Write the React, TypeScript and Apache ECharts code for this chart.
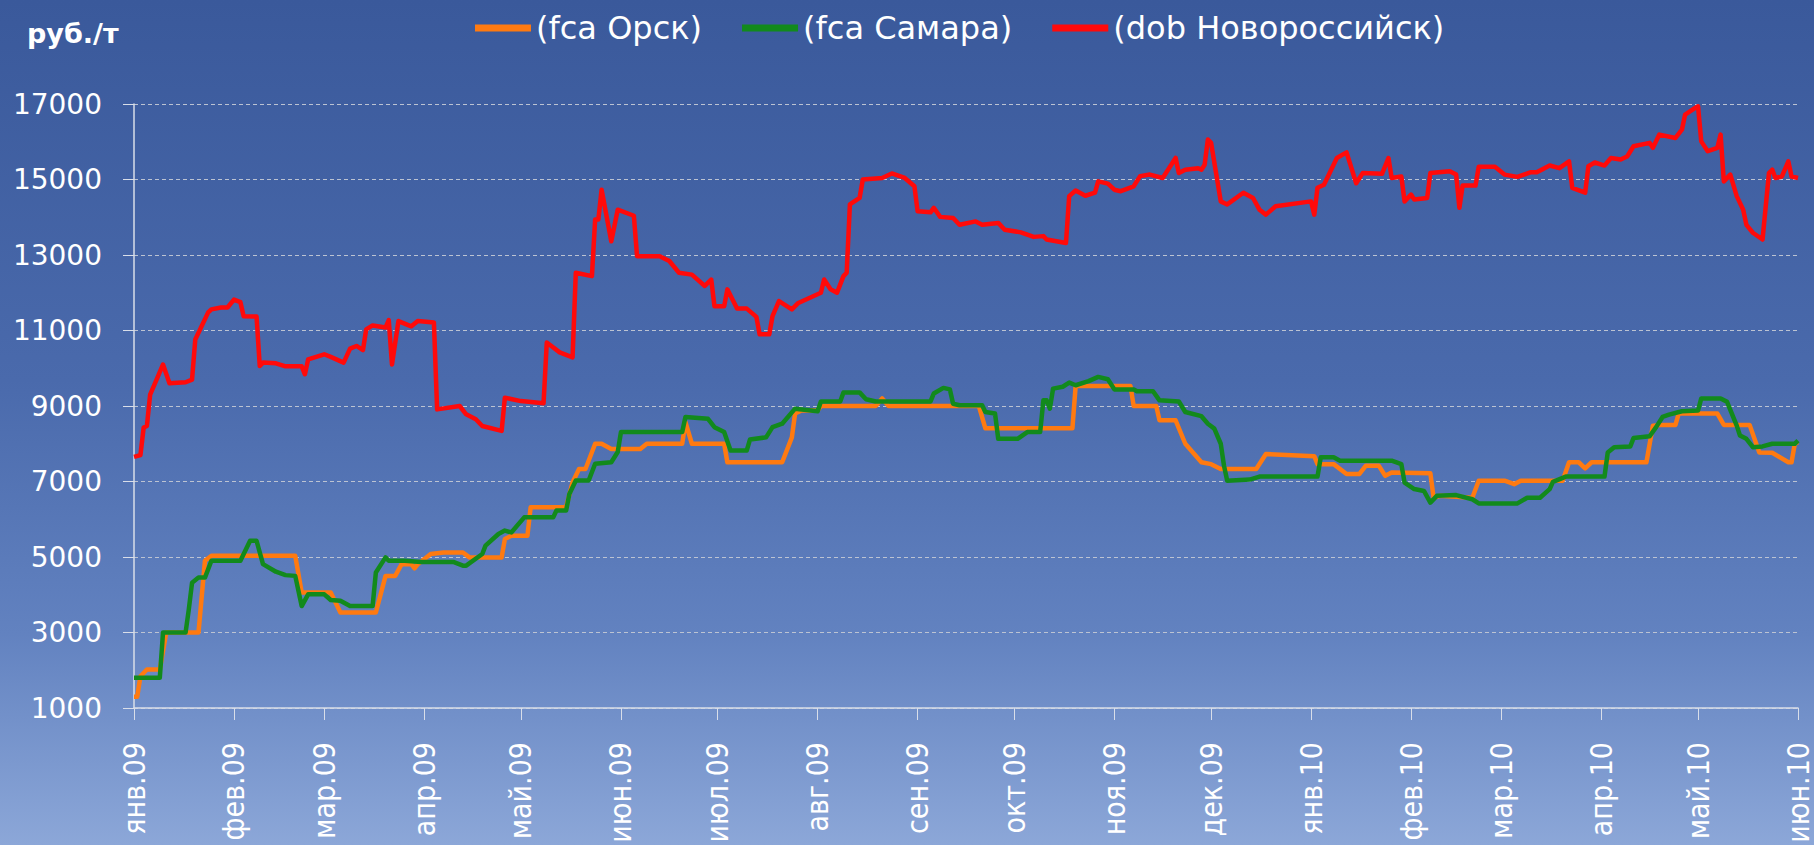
import React, { useEffect, useRef } from 'react';
import * as echarts from 'echarts';

// Category axis: every day from 2009-01-01 to 2010-06-01
const START_UTC = Date.UTC(2009, 0, 1);
const DAY_COUNT = 517;
const monthAbbr = ['янв', 'фев', 'мар', 'апр', 'май', 'июн', 'июл', 'авг', 'сен', 'окт', 'ноя', 'дек'];

const seriesNames = ['(fca Орск)', '(fca Самара)', '(dob Новороссийск)'];
const seriesColors = ['#ff7a10', '#128a1c', '#ff0a0a'];
const unitLabel = 'руб./т';
const yMin = 1000;
const yMax = 17000;
const yStep = 2000;

// [days since 2009-01-01, руб./т]
const orsk: [number, number][] = [
  [0, 1300], [1, 1300], [2, 1840], [4, 2020], [8, 2020], [10, 3000], [20, 3000], [22, 4900], [24, 5030], [50, 5030],
  [52, 4060], [61, 4060], [64, 3530], [75, 3530], [78, 4500], [81, 4500], [83, 4810], [86, 4810], [87, 4700], [88, 4810],
  [92, 5080], [96, 5120], [102, 5120], [104, 4990], [114, 4990], [115, 5475], [117, 5560], [122, 5560], [123, 6320], [134, 6320],
  [136, 6980], [138, 7330], [140, 7330], [143, 8000], [145, 8000], [148, 7860], [157, 7860], [159, 8000], [170, 8000], [171, 8570],
  [173, 8000], [183, 8000], [184, 7510], [201, 7510], [204, 8170], [205, 8800], [207, 8880], [212, 8880], [213, 9000], [230, 9000],
  [232, 9200], [234, 9000], [262, 9000], [264, 8410], [291, 8410], [292, 9530], [309, 9530], [310, 9000], [317, 9000], [318, 8620],
  [323, 8620], [326, 8000], [331, 7510], [334, 7460], [337, 7330], [348, 7330], [351, 7730], [366, 7670], [367, 7460], [372, 7460],
  [376, 7200], [380, 7200], [382, 7420], [386, 7420], [388, 7150], [390, 7240], [402, 7220], [403, 6570], [405, 6620], [415, 6570],
  [417, 7020], [425, 7020], [428, 6930], [430, 7020], [443, 7020], [445, 7510], [448, 7510], [450, 7350], [452, 7510], [469, 7510],
  [471, 8480], [474, 8500], [478, 8500], [479, 8800], [491, 8800], [493, 8500], [501, 8500], [504, 7770], [508, 7760], [513, 7510],
  [514, 7510], [515, 8000], [516, 8040],
];

const samara: [number, number][] = [
  [0, 1800], [8, 1800], [9, 3000], [16, 3000], [17, 3615], [18, 4320], [20, 4455], [22, 4455], [24, 4900], [33, 4900],
  [36, 5430], [38, 5430], [40, 4810], [44, 4610], [47, 4520], [50, 4500], [52, 3700], [54, 4010], [59, 4010], [61, 3860],
  [64, 3840], [67, 3700], [74, 3700], [75, 4590], [78, 4990], [79, 4900], [84, 4900], [89, 4870], [99, 4870], [102, 4770],
  [103, 4770], [108, 5080], [109, 5300], [113, 5610], [115, 5700], [117, 5650], [121, 6050], [130, 6050], [131, 6230], [134, 6230],
  [135, 6670], [137, 7025], [141, 7025], [143, 7470], [148, 7510], [150, 7780], [151, 8310], [170, 8310], [171, 8710], [178, 8660],
  [180, 8440], [183, 8310], [185, 7820], [190, 7820], [191, 8110], [196, 8170], [198, 8440], [201, 8530], [205, 8930], [212, 8860],
  [213, 9120], [219, 9120], [220, 9360], [225, 9360], [227, 9180], [230, 9120], [247, 9120], [248, 9330], [251, 9480], [253, 9440],
  [254, 9060], [256, 9020], [263, 9020], [264, 8840], [267, 8800], [268, 8130], [274, 8130], [277, 8310], [281, 8310], [282, 9150],
  [283, 9150], [284, 8930], [285, 9460], [288, 9510], [290, 9620], [292, 9550], [296, 9660], [299, 9770], [302, 9710], [304, 9440],
  [310, 9440], [311, 9390], [316, 9390], [318, 9150], [324, 9120], [326, 8840], [331, 8730], [333, 8530], [335, 8400], [337, 8000],
  [338, 7420], [339, 7020], [346, 7050], [349, 7130], [367, 7130], [368, 7640], [372, 7640], [374, 7550], [390, 7550], [393, 7460],
  [394, 6970], [397, 6800], [400, 6750], [402, 6440], [404, 6620], [410, 6640], [415, 6530], [417, 6420], [429, 6420], [432, 6570],
  [436, 6570], [439, 6800], [440, 6990], [444, 7130], [456, 7130], [457, 7770], [459, 7910], [464, 7930], [465, 8150], [470, 8200],
  [472, 8440], [474, 8710], [476, 8770], [480, 8860], [485, 8880], [486, 9200], [492, 9200], [494, 9110], [497, 8480], [498, 8220],
  [500, 8130], [502, 7910], [505, 7930], [508, 8000], [515, 8000], [516, 8080],
];

const novoross: [number, number][] = [
  [0, 7650], [2, 7700], [3, 8430], [4, 8470], [5, 9300], [7, 9700], [9, 10100], [11, 9600], [16, 9630], [18, 9700],
  [19, 10760], [23, 11480], [24, 11560], [27, 11610], [29, 11610], [31, 11820], [33, 11750], [34, 11380], [38, 11370], [39, 10060],
  [40, 10150], [44, 10130], [47, 10050], [52, 10050], [53, 9840], [54, 10235], [59, 10370], [61, 10300], [65, 10150], [67, 10520],
  [69, 10590], [71, 10480], [72, 11030], [74, 11135], [78, 11080], [79, 11275], [80, 10100], [82, 11250], [86, 11110], [88, 11250],
  [93, 11210], [94, 8910], [101, 9000], [103, 8780], [106, 8650], [108, 8470], [114, 8340], [115, 9220], [120, 9130], [127, 9070],
  [128, 10680], [132, 10420], [136, 10290], [137, 12530], [142, 12440], [143, 13940], [144, 13940], [145, 14730], [148, 13365], [150, 14200],
  [155, 14040], [156, 12970], [163, 12970], [166, 12840], [169, 12530], [173, 12480], [177, 12180], [179, 12350], [180, 11640], [183, 11640],
  [184, 12090], [187, 11580], [190, 11580], [193, 11360], [194, 10900], [197, 10900], [198, 11380], [200, 11780], [204, 11560], [206, 11730],
  [213, 12000], [214, 12350], [216, 12090], [218, 12000], [220, 12440], [221, 12530], [222, 14340], [225, 14510], [226, 15000], [232, 15040],
  [235, 15160], [239, 15040], [242, 14820], [243, 14160], [247, 14130], [248, 14250], [250, 14010], [254, 13980], [256, 13800], [261, 13890],
  [263, 13800], [268, 13850], [270, 13670], [275, 13600], [279, 13480], [282, 13500], [283, 13410], [289, 13320], [290, 14560], [292, 14710],
  [295, 14570], [298, 14650], [299, 14950], [302, 14890], [304, 14730], [306, 14690], [310, 14820], [312, 15090], [315, 15130], [319, 15040],
  [323, 15570], [324, 15170], [326, 15260], [330, 15300], [331, 15260], [332, 15390], [333, 16060], [334, 15970], [337, 14420], [339, 14340],
  [344, 14650], [347, 14510], [349, 14200], [351, 14070], [354, 14290], [365, 14420], [366, 14070], [367, 14780], [369, 14860], [373, 15570],
  [376, 15720], [379, 14900], [381, 15170], [387, 15150], [389, 15570], [390, 15040], [393, 15080], [394, 14420], [396, 14600], [397, 14470],
  [401, 14510], [402, 15170], [408, 15220], [410, 15130], [411, 14250], [412, 14840], [416, 14840], [417, 15340], [422, 15340], [425, 15130],
  [429, 15070], [433, 15190], [435, 15190], [439, 15370], [442, 15300], [445, 15480], [446, 14780], [450, 14650], [451, 15350], [453, 15450],
  [456, 15370], [458, 15570], [461, 15530], [463, 15610], [465, 15880], [470, 15970], [471, 15840], [473, 16190], [478, 16100], [480, 16320],
  [481, 16720], [484, 16890], [485, 16940], [486, 16010], [488, 15750], [491, 15840], [492, 16190], [493, 14950], [495, 15130], [497, 14560],
  [499, 14200], [500, 13800], [502, 13590], [505, 13410], [507, 15170], [508, 15260], [509, 15040], [511, 15080], [513, 15480], [514, 15080],
  [516, 15040],
];

const FONT = 'DejaVu Sans';
const FONT_NARROW = "'DejaVu Sans Condensed', 'DejaVu Sans'";

function buildDays(): string[] {
  const out: string[] = [];
  for (let i = 0; i < DAY_COUNT; i++) {
    const d = new Date(START_UTC + i * 86400000);
    const y = d.getUTCFullYear();
    const m = String(d.getUTCMonth() + 1).padStart(2, '0');
    const dd = String(d.getUTCDate()).padStart(2, '0');
    out.push(`${y}-${m}-${dd}`);
  }
  return out;
}

function monthLabel(iso: string): string {
  const m = parseInt(iso.slice(5, 7), 10) - 1;
  return `${monthAbbr[m]}.${iso.slice(2, 4)}`;
}

export default function App() {
  const ref = useRef<HTMLDivElement>(null);

  useEffect(() => {
    if (!ref.current) return;
    const chart = echarts.init(ref.current, undefined, { renderer: 'svg' });
    const days = buildDays();
    const isMonthStart = (index: number) => !!days[index] && days[index].endsWith('-01');
    const datasets = [orsk, samara, novoross];

    chart.setOption({
      animation: false,
      backgroundColor: new echarts.graphic.LinearGradient(0, 0, 0, 1, [
        { offset: 0, color: '#3a599b' },
        { offset: 0.45, color: '#4a6aac' },
        { offset: 0.75, color: '#6282c0' },
        { offset: 1, color: '#8ca7d8' },
      ]),
      title: {
        text: unitLabel,
        left: 22,
        top: 15,
        textStyle: { color: '#ffffff', fontFamily: FONT, fontSize: 27, fontWeight: 'bold' },
      },
      legend: {
        data: seriesNames,
        left: 470,
        top: 7,
        icon: 'rect',
        itemWidth: 56,
        itemHeight: 7,
        itemGap: 40,
        textStyle: { color: '#ffffff', fontFamily: FONT, fontSize: 32 },
      },
      grid: {
        left: 134,
        right: 16,
        top: 104,
        bottom: 137,
        containLabel: false,
        outerBoundsMode: 'none',
      },
      xAxis: {
        type: 'category',
        data: days,
        boundaryGap: false,
        axisLine: { lineStyle: { color: '#d9dee9', width: 1.5 } },
        axisTick: { show: true, interval: (i: number) => isMonthStart(i), length: 12, lineStyle: { color: '#d9dee9' } },
        axisLabel: {
          interval: (i: number) => isMonthStart(i),
          rotate: 90,
          margin: 34,
          color: '#ffffff',
          fontFamily: FONT_NARROW,
          fontSize: 30,
          formatter: (v: string) => monthLabel(v),
        },
        splitLine: { show: false },
      },
      yAxis: {
        type: 'value',
        min: yMin,
        max: yMax,
        interval: yStep,
        axisLine: { show: true, lineStyle: { color: '#d9dee9', width: 1.5 } },
        axisTick: { show: true, length: 11, lineStyle: { color: '#d9dee9' } },
        axisLabel: {
          color: '#ffffff',
          fontFamily: FONT,
          fontSize: 28,
          margin: 32,
          formatter: (v: number) => String(v),
        },
        splitLine: { show: true, lineStyle: { color: '#bcc3d2', width: 1, type: [4, 3] } },
      },
      series: seriesNames.map((name, k) => ({
        name,
        type: 'line',
        data: datasets[k],
        showSymbol: false,
        symbol: 'none',
        color: seriesColors[k],
        lineStyle: { color: seriesColors[k], width: 4.5, join: 'round' },
        z: 2 + k,
      })),
    });

    return () => chart.dispose();
  }, []);

  return (
    <div
      ref={ref}
      style={{ position: 'fixed', left: 0, top: 0, width: '1814px', height: '845px' }}
    />
  );
}
